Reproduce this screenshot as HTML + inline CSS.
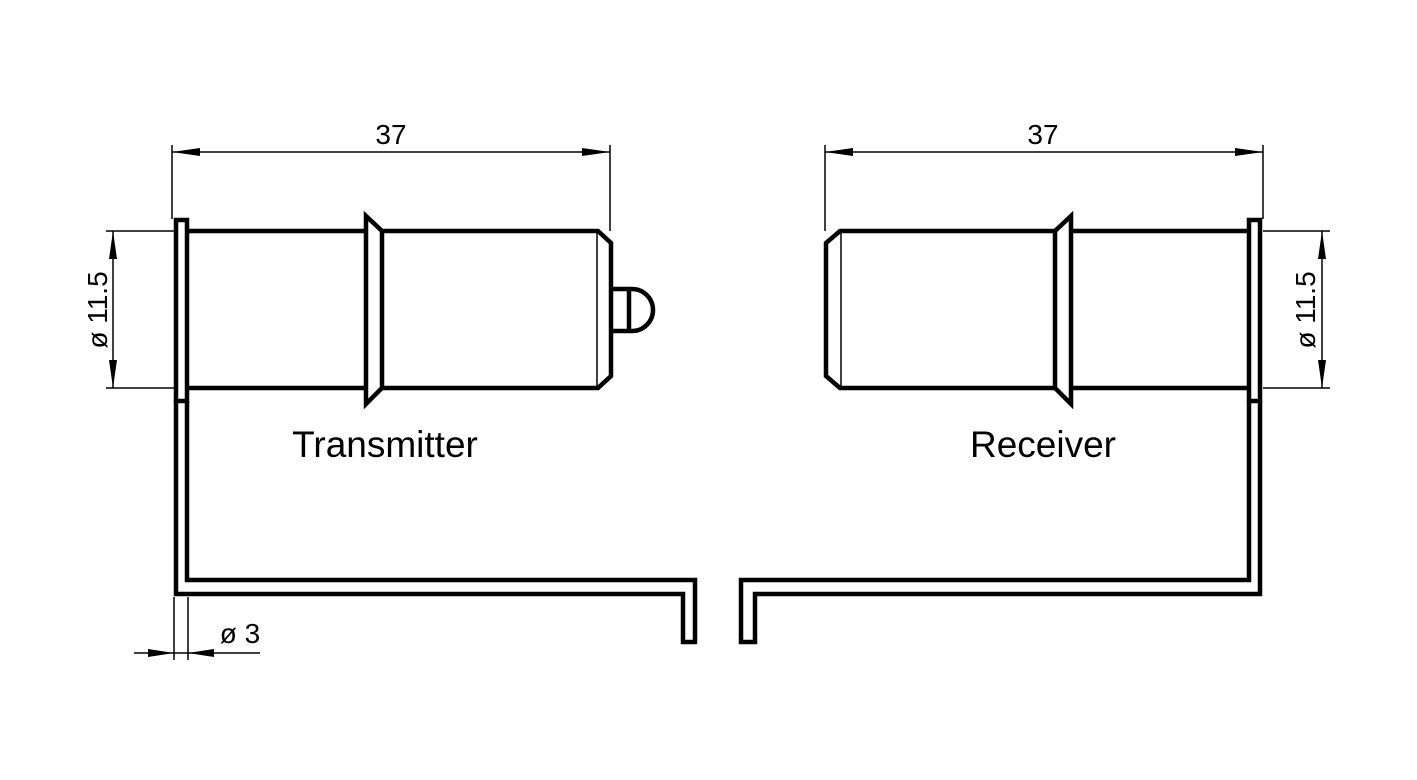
<!DOCTYPE html>
<html><head><meta charset="utf-8"><style>html,body{margin:0;padding:0;background:#fff}svg{display:block}</style></head>
<body>
<svg width="1417" height="780" viewBox="0 0 1417 780" xmlns="http://www.w3.org/2000/svg" font-family="Liberation Sans, Arial, sans-serif">
<g fill="none" stroke="#000" stroke-width="4.5" stroke-linejoin="miter">
<!-- Transmitter -->
<rect x="176" y="220" width="11" height="181"/>
<path d="M187 231 H366 M187 388 H366"/>
<path d="M366 216 L382 231 V388 L366 404 Z"/>
<path d="M382 231 H598 L611 243 V376 L598 388 H382"/>
<path d="M611 289 H632 A21 21 0 0 1 632 331 H611"/>
<path d="M629 289 V331"/>
<path d="M176 401 V594 H683 V642 H695 V580 H187 V401"/>
<!-- Receiver -->
<rect x="1249" y="220" width="11" height="181"/>
<path d="M1071 231 H1249 M1071 388 H1249"/>
<path d="M1071 216 L1055 231 V388 L1071 404 Z"/>
<path d="M1055 231 H840 L826 243 V376 L840 388 H1055"/>
<path d="M1260 401 V594 H755 V642 H741 V580 H1249 V401"/>
</g>
<g stroke="#000" stroke-width="1.5" fill="none">
<path d="M597 233 V386 M841 233 V386"/>
<path d="M172 145 V219 M610 145 V231 M172 152 H610"/>
<path d="M825 145 V231 M1263 145 V219 M825 152 H1263"/>
<path d="M106 231 H174 M106 388 H174 M113 231 V388"/>
<path d="M1263 231 H1330 M1263 388 H1330 M1322 231 V388"/>
<path d="M174 597 V660 M188 597 V660 M134 653 H260"/>
</g>
<g fill="#000">
<path d="M172 152 L200 148 L200 156Z M610 152 L582 148 L582 156Z"/>
<path d="M825 152 L853 148 L853 156Z M1263 152 L1235 148 L1235 156Z"/>
<path d="M113 231 L109 259 L117 259Z M113 388 L109 360 L117 360Z"/>
<path d="M1322 231 L1318 259 L1326 259Z M1322 388 L1318 360 L1326 360Z"/>
<path d="M174 653 L148 649 L148 657Z M188 653 L214 649 L214 657Z"/>
</g>
<g font-size="28" fill="#000" text-anchor="middle">
<text x="391" y="144">37</text>
<text x="1043" y="144">37</text>
<text x="240" y="643">ø 3</text>
<text transform="translate(107 310) rotate(-90)">ø 11.5</text>
<text transform="translate(1315 310) rotate(-90)">ø 11.5</text>
</g>
<g font-size="37" fill="#000" text-anchor="middle">
<text x="385" y="457">Transmitter</text>
<text x="1043" y="457">Receiver</text>
</g>
</svg>
</body></html>
